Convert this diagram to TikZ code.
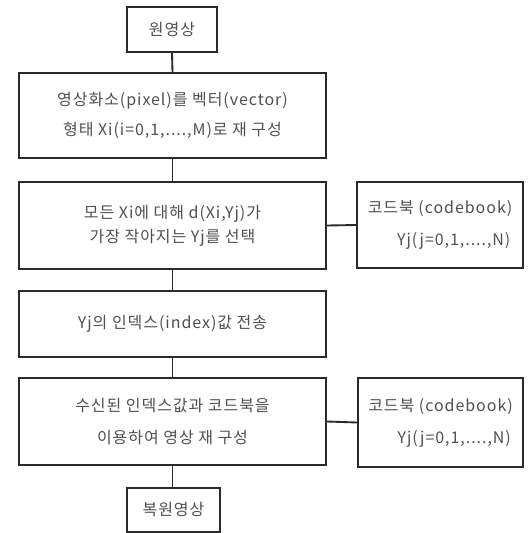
\documentclass[tikz,border=0pt]{standalone}
\usepackage{fontspec}
\setmainfont{Noto Sans CJK KR}
\newfontfamily\kr[LetterSpace=6]{Noto Sans CJK KR}
\definecolor{txt}{HTML}{505050}
\definecolor{ln}{HTML}{2A2A2A}
\tikzset{
  box/.style={draw=ln, line width=1.4pt, fill=white, inner sep=0pt, align=center,
    text=txt, font=\kr\fontsize{12}{22}\selectfont},
  cbox/.style={box, align=left},
  link/.style={draw=ln, line width=1.4pt}
}
\begin{document}
\begin{tikzpicture}[x=0.75pt, y=-0.75pt]
\useasboundingbox (0,0) rectangle (530,533);
\node[box, minimum width=67.5pt, minimum height=33.75pt] (b1) at (172,29.5) {원영상};
\node[box, minimum width=230.25pt, minimum height=63.75pt] (b2) at (172.5,115.5)
  {영상화소(pixel)를 벡터(vector)\\[1pt]형태 Xi(i=0,1,....,M)로 재 구성};
\node[box, minimum width=230.25pt, minimum height=65.25pt] (b3) at (172.5,225.5)
  {모든 Xi에 대해 d(Xi,Yj)가\\[-4pt]가장 작아지는 Yj를 선택};
\node[cbox, minimum width=124.5pt, minimum height=64.5pt] (c1) at (440,225)
  {코드북 (codebook)\\[2pt]\hspace*{22pt}Yj(j=0,1,....,N)};
\node[box, minimum width=230.25pt, minimum height=49.5pt] (b4) at (172.5,324)
  {Yj의 인덱스(index)값 전송};
\node[box, minimum width=230.25pt, minimum height=65.25pt] (b5) at (172.5,421.5)
  {수신된 인덱스값과 코드북을\\[1.5pt]이용하여 영상 재 구성};
\node[cbox, minimum width=123.75pt, minimum height=66.75pt] (c2) at (440.5,422.5)
  {코드북 (codebook)\\[2pt]\hspace*{22pt}Yj(j=0,1,....,N)};
\node[box, minimum width=69.75pt, minimum height=33pt] (b6) at (173.5,510) {복원영상};
\draw[link] (b1.south) -- (b2.north);
\draw[link] (b2.south) -- (b3.north);
\draw[link] (b3.south) -- (b4.north);
\draw[link] (b4.south) -- (b5.north);
\draw[link] (b5.south) -- (b5.south |- b6.north);
\draw[link] (b3.east) -- (c1.west);
\draw[link] (b5.east) -- (c2.west);
\end{tikzpicture}
\end{document}
